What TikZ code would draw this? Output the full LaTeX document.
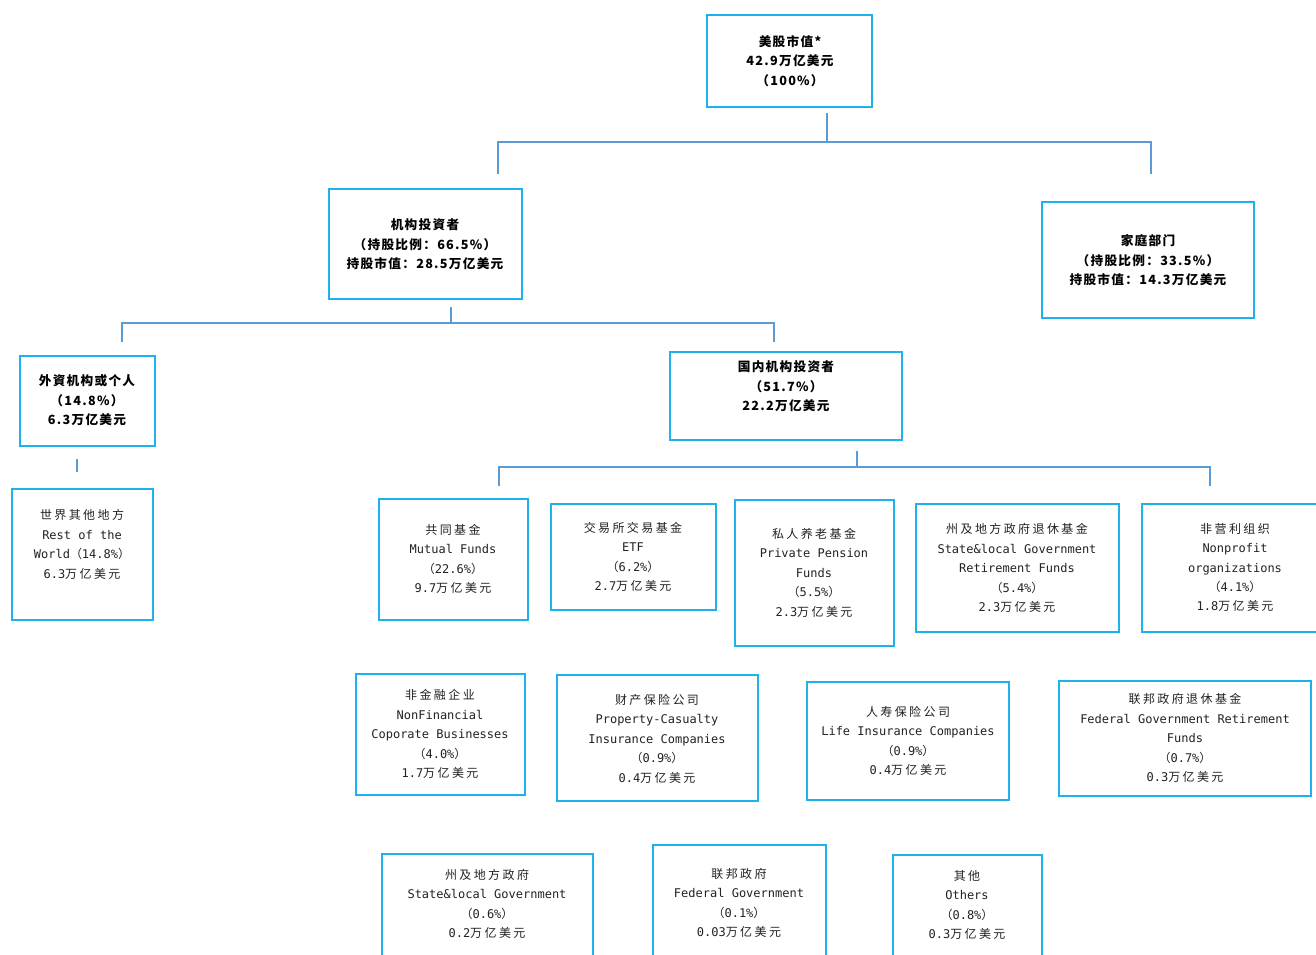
\documentclass[tikz,border=0pt]{standalone}
\usepackage{fontspec}
\newfontfamily\cjk[LetterSpace=20]{Noto Sans CJK SC}
\newfontfamily\cjkB[LetterSpace=10]{Noto Sans CJK SC}
\newfontfamily\mono{DejaVu Sans Mono}
\newcommand\z[1]{{\cjk #1}}
\newdimen\px \px=0.75pt
\definecolor{boxblue}{HTML}{1EB1EE}
\definecolor{connblue}{HTML}{5B9BD5}
\definecolor{txt}{HTML}{222222}
\tikzset{
  box/.style={draw=boxblue, line width=1.4pt, inner sep=0pt, outer sep=0pt},
  boldtxt/.style={align=center, inner sep=0pt, text=black, font={\cjkB\bfseries\fontsize{9.5}{14.6}\selectfont}},
  plaintxt/.style={align=center, inner sep=0pt, text=txt, font={\mono\fontsize{9}{14.6}\selectfont}},
  conn/.style={draw=connblue, line width=1.2pt}
}
\begin{document}
\begin{tikzpicture}[x=0.75pt, y=-0.75pt]
\clip (0,0) rectangle (1316,954);
\fill[white] (0,0) rectangle (1316,954);
% boxes
\node[box, minimum width=165*\px, minimum height=92*\px] (b1) at (789.5,61) {};
\node[box, minimum width=193*\px, minimum height=110*\px] (b2) at (425.5,244) {};
\node[box, minimum width=212*\px, minimum height=116*\px] (b3) at (1148,260) {};
\node[box, minimum width=135*\px, minimum height=90*\px] (b4) at (87.5,401) {};
\node[box, minimum width=232*\px, minimum height=88*\px] (b5) at (786,396) {};
\node[box, minimum width=141*\px, minimum height=131*\px] (b6) at (82.5,554.5) {};
\node[box, minimum width=149*\px, minimum height=121*\px] (b7) at (453.5,559.5) {};
\node[box, minimum width=165*\px, minimum height=106*\px] (b8) at (633.5,557) {};
\node[box, minimum width=159*\px, minimum height=146*\px] (b9) at (814.5,573) {};
\node[box, minimum width=203*\px, minimum height=128*\px] (b10) at (1017.5,568) {};
\node[box, minimum width=188*\px, minimum height=128*\px] (b11) at (1236,568) {};
\node[box, minimum width=169*\px, minimum height=121*\px] (b12) at (440.5,734.5) {};
\node[box, minimum width=201*\px, minimum height=126*\px] (b13) at (657.5,738) {};
\node[box, minimum width=202*\px, minimum height=118*\px] (b14) at (908,741) {};
\node[box, minimum width=252*\px, minimum height=115*\px] (b15) at (1185,738.5) {};
\node[box, minimum width=211*\px, minimum height=136*\px] (b16) at (487.5,922) {};
\node[box, minimum width=173*\px, minimum height=145*\px] (b17) at (739.5,917.5) {};
\node[box, minimum width=149*\px, minimum height=135*\px] (b18) at (967.5,922.5) {};
% texts
\node[boldtxt] (t1) at (790,61) {美股市值*\\42.9万亿美元\\（100\%）};
\node[boldtxt] (t2) at (425,244.5) {机构投資者\\（持股比例：66.5\%）\\持股市值：28.5万亿美元};
\node[boldtxt] (t3) at (1148,260.5) {家庭部门\\（持股比例：33.5\%）\\持股市值：14.3万亿美元};
\node[boldtxt] (t4) at (87,400.5) {外資机构或个人\\（14.8\%）\\6.3万亿美元};
\node[boldtxt] (t5) at (786,386.5) {国内机构投资者\\（51.7\%）\\22.2万亿美元};
\node[plaintxt] (t6) at (82,544.5) {\z{世界其他地方}\\Rest of the\\World\z{（}14.8\%\z{）}\\6.3\z{万亿美元}};
\node[plaintxt] (t7) at (453,559) {\z{共同基金}\\Mutual Funds\\\z{（}22.6\%\z{）}\\9.7\z{万亿美元}};
\node[plaintxt] (t8) at (633,557) {\z{交易所交易基金}\\ETF\\\z{（}6.2\%\z{）}\\2.7\z{万亿美元}};
\node[plaintxt] (t9) at (814,572.5) {\z{私人养老基金}\\Private Pension\\Funds\\\z{（}5.5\%\z{）}\\2.3\z{万亿美元}};
\node[plaintxt] (t10) at (1017,568) {\z{州及地方政府退休基金}\\State\&local Government\\Retirement Funds\\\z{（}5.4\%\z{）}\\2.3\z{万亿美元}};
\node[plaintxt] (t11) at (1235,567.5) {\z{非营利组织}\\Nonprofit\\organizations\\\z{（}4.1\%\z{）}\\1.8\z{万亿美元}};
\node[plaintxt] (t12) at (440,734) {\z{非金融企业}\\NonFinancial\\Coporate Businesses\\\z{（}4.0\%\z{）}\\1.7\z{万亿美元}};
\node[plaintxt] (t13) at (657,738.5) {\z{财产保险公司}\\Property-Casualty\\Insurance Companies\\\z{（}0.9\%\z{）}\\0.4\z{万亿美元}};
\node[plaintxt] (t14) at (908,741) {\z{人寿保险公司}\\Life Insurance Companies\\\z{（}0.9\%\z{）}\\0.4\z{万亿美元}};
\node[plaintxt] (t15) at (1185,738) {\z{联邦政府退休基金}\\Federal Government Retirement\\Funds\\\z{（}0.7\%\z{）}\\0.3\z{万亿美元}};
\node[plaintxt] (t16) at (487,904) {\z{州及地方政府}\\State\&local Government\\\z{（}0.6\%\z{）}\\0.2\z{万亿美元}};
\node[plaintxt] (t17) at (739,903) {\z{联邦政府}\\Federal Government\\\z{（}0.1\%\z{）}\\0.03\z{万亿美元}};
\node[plaintxt] (t18) at (967,905) {\z{其他}\\Others\\\z{（}0.8\%\z{）}\\0.3\z{万亿美元}};
% connector points
\coordinate (c1a) at (827,113); \coordinate (c1b) at (827,142);
\coordinate (c1l) at (498,142); \coordinate (c1r) at (1151,142);
\coordinate (c1ld) at (498,174); \coordinate (c1rd) at (1151,174);
\coordinate (c2a) at (451,307); \coordinate (c2b) at (451,323);
\coordinate (c2l) at (122,323); \coordinate (c2r) at (774,323);
\coordinate (c2ld) at (122,342); \coordinate (c2rd) at (774,342);
\coordinate (c3a) at (77,459); \coordinate (c3b) at (77,472);
\coordinate (c4a) at (857,451); \coordinate (c4b) at (857,467);
\coordinate (c4l) at (499,467); \coordinate (c4r) at (1210,467);
\coordinate (c4ld) at (499,486); \coordinate (c4rd) at (1210,486);
% connectors
\draw[conn] (c1a) -- (c1b);
\draw[conn] (c1ld) -- (c1l) -- (c1r) -- (c1rd);
\draw[conn] (c2a) -- (c2b);
\draw[conn] (c2ld) -- (c2l) -- (c2r) -- (c2rd);
\draw[conn] (c3a) -- (c3b);
\draw[conn] (c4a) -- (c4b);
\draw[conn] (c4ld) -- (c4l) -- (c4r) -- (c4rd);
\end{tikzpicture}
\end{document}
